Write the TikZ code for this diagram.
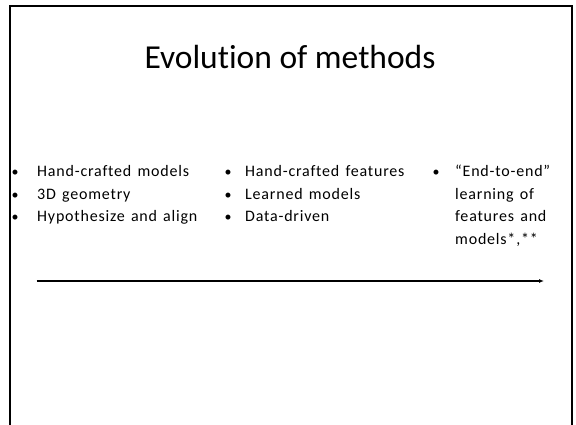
\documentclass[tikz,border=0pt]{standalone}
\usepackage{fontspec}
\setmainfont[Ligatures={NoCommon}]{Carlito}
\newfontfamily\bodyfont[LetterSpace=5,WordSpace=1.4,Ligatures={NoCommon}]{Carlito}
\usetikzlibrary{arrows.meta}
\begin{document}
\begin{tikzpicture}[x=1pt,y=-1pt,
  frameline/.style={line width=2pt},
  titletext/.style={font=\fontsize{33.5}{40}\selectfont, anchor=base},
  itemtext/.style={font=\bodyfont\fontsize{16}{22.5}\selectfont, anchor=base west, inner sep=0pt},
  bullet/.style={font=\fontsize{14}{22.5}\selectfont, anchor=base, inner sep=0pt},
  timeline/.style={line width=1.5pt, -{Latex[length=5pt,width=4pt]}}]
\useasboundingbox (0,0) rectangle (576,425);
% open slide frame (no bottom edge)
\coordinate (fbl) at (9.5,425);
\coordinate (ftl) at (9.5,6);
\coordinate (ftr) at (572,6);
\coordinate (fbr) at (572,425);
\draw[frameline] (fbl) -- (ftl) -- (ftr) -- (fbr);
% title
\node[titletext] (title) at (290,69) {Evolution of methods};
% first column
\node[bullet] (b11) at (15,177) {•};
\node[itemtext] (t11) at (37,177) {Hand-crafted models};
\node[bullet] (b12) at (15,199.5) {•};
\node[itemtext] (t12) at (37,199.5) {3D geometry};
\node[bullet] (b13) at (15,222) {•};
\node[itemtext] (t13) at (37,222) {Hypothesize and align};
% second column
\node[bullet] (b21) at (228,177) {•};
\node[itemtext] (t21) at (245,177) {Hand-crafted features};
\node[bullet] (b22) at (228,199.5) {•};
\node[itemtext] (t22) at (245,199.5) {Learned models};
\node[bullet] (b23) at (228,222) {•};
\node[itemtext] (t23) at (245,222) {Data-driven};
% third column
\node[bullet] (b31) at (436,177) {•};
\node[itemtext] (t31) at (455,177) {“End-to-end”};
\node[itemtext] (t32) at (455,199.5) {learning of};
\node[itemtext] (t33) at (455,222) {features and};
\node[itemtext] (t34) at (455,244.5) {models*,**};
% time axis
\coordinate (as) at (36.5,281);
\coordinate (ae) at (544,281);
\draw[timeline] (as) -- (ae);
\end{tikzpicture}
\end{document}
